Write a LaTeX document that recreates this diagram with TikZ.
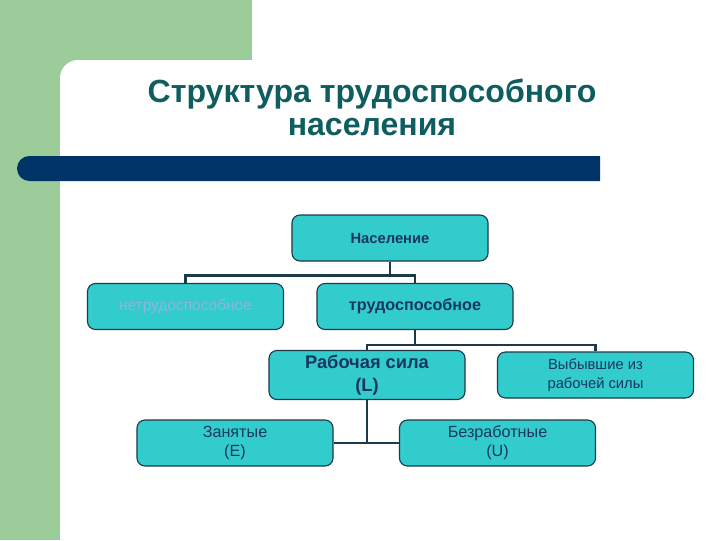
\documentclass[tikz,border=0pt]{standalone}
\usepackage{fontspec}
\setmainfont{Liberation Sans}
\definecolor{leafgreen}{HTML}{9CCC9A}
\definecolor{barblue}{HTML}{003366}
\definecolor{titleteal}{HTML}{0E5E60}
\definecolor{boxteal}{HTML}{33CCCC}
\definecolor{edgeblue}{HTML}{1C3A4A}
\definecolor{inkblue}{HTML}{17375E}
\definecolor{paleink}{HTML}{8FB4E0}

\begin{document}
\begin{tikzpicture}[x=0.025cm,y=-0.025cm,
  box/.style={draw=edgeblue,line width=0.8pt,fill=boxteal,rounded corners=0.2cm,
    minimum width=4.9cm,minimum height=1.15cm,align=center,text=inkblue},
  link/.style={draw=edgeblue,line width=1.6pt}]
\useasboundingbox (0,0) rectangle (720,540);
\clip (0,0) rectangle (720,540);
\fill[leafgreen] (0,0) rectangle (252,80);
\fill[leafgreen] (0,0) rectangle (60,540);
\fill[white,rounded corners=0.45cm] (60,60) rectangle (760,580);
\fill[barblue] (600,156) [rounded corners=0.31cm] -- (17,156) -- (17,181) [sharp corners] -- (600,181) -- cycle;
\node[text=titleteal,font=\fontsize{22.8}{23.5}\selectfont\bfseries,align=center] (title) at (372,107) {Структура трудоспособного\\населения};

\node[box,font=\fontsize{10.5}{13}\selectfont\bfseries] (pop) at (390,238) {Население};
\node[box,text=paleink,font=\fontsize{11}{13}\selectfont] (netr) at (185.5,306.5) {нетрудоспособное};
\node[box,font=\fontsize{11.5}{13}\selectfont\bfseries] (tr) at (415,306.5) {трудоспособное};
\node[box,font=\fontsize{13}{16}\selectfont\bfseries] (lab) at (367,375) {Рабочая сила\\(L)};
\node[box,font=\fontsize{10.5}{13}\selectfont] (out) at (595.5,375) {Выбывшие из\\рабочей силы};
\node[box,font=\fontsize{11.5}{13.5}\selectfont] (empl) at (235,443) {Занятые\\(E)};
\node[box,font=\fontsize{11.5}{13.5}\selectfont] (unemp) at (497.5,443) {Безработные\\(U)};

\draw[link] (pop.south) -- ++(0,14) coordinate (j1);
\draw[link] (netr.north) |- (j1) -| (tr.north);
\draw[link] (tr.south) -- ++(0,15) coordinate (j2);
\draw[link] (lab.north) |- (j2) -| (out.north);
\draw[link] (empl.east) -- (unemp.west);
\draw[link] (lab.south) -- (lab.south |- empl.east);
\end{tikzpicture}
\end{document}
